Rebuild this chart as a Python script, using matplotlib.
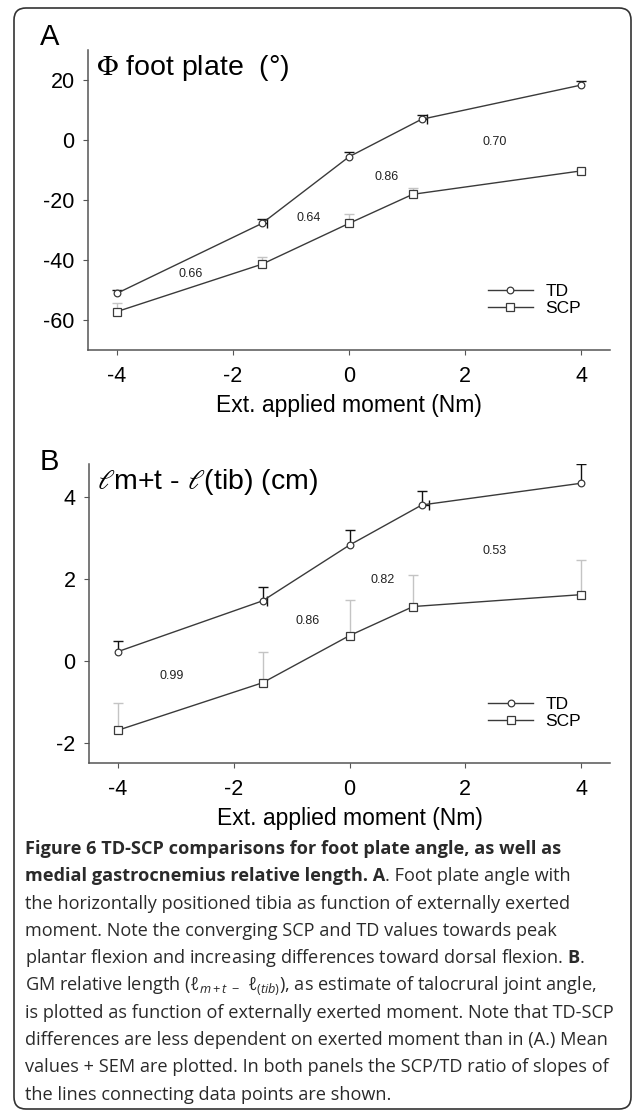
import numpy as np
import matplotlib
matplotlib.use("Agg")
import matplotlib.pyplot as plt
from matplotlib.patches import FancyBboxPatch
from matplotlib.transforms import IdentityTransform

plt.rcParams['font.family'] = ['Liberation Sans', 'DejaVu Sans']
plt.rcParams['mathtext.fontset'] = 'custom'
plt.rcParams['mathtext.rm'] = 'Open Sans'
plt.rcParams['mathtext.it'] = 'Open Sans:italic'
plt.rcParams['mathtext.bf'] = 'Open Sans:bold'

W, H = 633, 1111

# --- data, panel A: foot plate angle (deg) ---
x_ticks = [-4, -2, 0, 2, 4]
td_x_a = [-4, -1.5, 0, 1.25, 4]
td_a = [-51.1, -27.8, -5.6, 6.9, 18.3]
td_sem_a = [1.2, 1.4, 1.7, 1.4, 1.5]
td_xsem_a = [0, 0.09, 0, 0.10, 0]
scp_x_a = [-4, -1.5, 0, 1.1, 4]
scp_a = [-57.2, -41.4, -27.8, -18.1, -10.3]
scp_sem_a = [2.8, 2.5, 3.0, 2.0, 0.5]
ratios_a = ['0.66', '0.64', '0.86', '0.70']
ratio_x_a = [-2.73, -0.70, 0.65, 2.51]
ratio_y_a = [-44.7, -26.1, -12.2, -0.6]
y_ticks_a = [-60, -40, -20, 0, 20]

# --- data, panel B: GM relative length (cm) ---
td_x_b = [-4, -1.5, 0, 1.25, 4]
td_b = [0.22, 1.46, 2.82, 3.80, 4.33]
td_sem_b = [0.27, 0.33, 0.38, 0.35, 0.47]
td_xsem_b = [0, 0.07, 0, 0.12, 0]
scp_x_b = [-4, -1.5, 0, 1.1, 4]
scp_b = [-1.70, -0.54, 0.61, 1.32, 1.61]
scp_sem_b = [0.67, 0.74, 0.87, 0.78, 0.84]
ratios_b = ['0.99', '0.86', '0.82', '0.53']
ratio_x_b = [-3.07, -0.72, 0.58, 2.51]
ratio_y_b = [-0.37, 0.97, 1.98, 2.67]
y_ticks_b = [-2, 0, 2, 4]

# caption: each line is a list of (text, weight) runs
caption_lines = [
    [("Figure 6 TD-SCP comparisons for foot plate angle, as well as", 'bold')],
    [("medial gastrocnemius relative length. A", 'bold'),
     (". Foot plate angle with", 'normal')],
    [("the horizontally positioned tibia as function of externally exerted", 'normal')],
    [("moment. Note the converging SCP and TD values towards peak", 'normal')],
    [(r"plantar flexion and increasing differences toward dorsal flexion. $\mathbf{B}$.", 'normal')],
    [(r"GM relative length ($\ell_{m+t\ -}\ \ell_{(tib)}$), as estimate of talocrural joint angle,", 'normal')],
    [("is plotted as function of externally exerted moment. Note that TD-SCP", 'normal')],
    [("differences are less dependent on exerted moment than in (A.) Mean", 'normal')],
    [("values + SEM are plotted. In both panels the SCP/TD ratio of slopes of", 'normal')],
    [("the lines connecting data points are shown.", 'normal')],
]

LINE = '#3a3a3a'
SPINE = '#555555'


def draw_panel(ax, td_x, td, td_sem, td_xsem, scp_x, scp, scp_sem,
               ratios, rx, ry, ylim, yticks, title):
    td_x, td, td_sem, td_xsem = map(np.asarray, (td_x, td, td_sem, td_xsem))
    scp_x, scp, scp_sem = map(np.asarray, (scp_x, scp, scp_sem))

    # SEM bars, upward only
    ax.vlines(scp_x, scp, scp + scp_sem, color='#c4c4c4', lw=1.0, zorder=2)
    ax.plot(scp_x, scp + scp_sem, ls='none', marker='_', ms=6.5, mew=1.0,
            color='#c4c4c4', zorder=2)
    ax.vlines(td_x, td, td + td_sem, color='#111111', lw=1.0, zorder=2)
    ax.plot(td_x, td + td_sem, ls='none', marker='_', ms=6.5, mew=1.0,
            color='#111111', zorder=2)
    m = td_xsem > 0
    ax.hlines(td[m], td_x[m], td_x[m] + td_xsem[m], color='#111111', lw=1.0, zorder=2)
    ax.plot(td_x[m] + td_xsem[m], td[m], ls='none', marker='|', ms=6.5, mew=1.0,
            color='#111111', zorder=2)

    l_td, = ax.plot(td_x, td, color=LINE, lw=1.0, marker='o', ms=4.8,
                    mfc='white', mec=LINE, mew=0.9, label='TD', zorder=4)
    l_scp, = ax.plot(scp_x, scp, color=LINE, lw=1.0, marker='s', ms=5.4,
                     mfc='white', mec=LINE, mew=0.9, label='SCP', zorder=4)

    for r, x, y in zip(ratios, rx, ry):
        ax.text(x, y, r, fontsize=9, ha='center', va='center', color='#222222')

    ax.legend(handles=[l_td, l_scp], loc='center left',
              bbox_to_anchor=(0.766, 0.166), frameon=False, fontsize=12.5,
              handlelength=2.6, handletextpad=0.7, labelspacing=0.1,
              borderpad=0, borderaxespad=0)

    ax.text(0.015, 0.94, title, transform=ax.transAxes, fontsize=20.5,
            ha='left', va='center', math_fontfamily='stix')

    ax.set_xlim(-4.5, 4.5)
    ax.set_ylim(*ylim)
    ax.set_xticks(x_ticks)
    ax.set_xticklabels([str(t) for t in x_ticks])
    ax.set_yticks(yticks)
    ax.set_yticklabels([str(t) for t in yticks])
    for s in ('top', 'right'):
        ax.spines[s].set_visible(False)
    for s in ('left', 'bottom'):
        ax.spines[s].set_color(SPINE)
        ax.spines[s].set_linewidth(1.1)
    ax.tick_params(direction='out', length=3.6, width=0.8, color=SPINE,
                   labelsize=15.5)
    ax.tick_params(axis='y', pad=6)
    ax.tick_params(axis='x', pad=8)
    ax.set_xlabel('Ext. applied moment (Nm)', fontsize=16.5, labelpad=5)


fig = plt.figure(figsize=(W / 100, H / 100), dpi=100)

ax_a = fig.add_axes([88 / W, 1 - 350 / H, 522 / W, 300 / H])
draw_panel(ax_a, td_x_a, td_a, td_sem_a, td_xsem_a, scp_x_a, scp_a, scp_sem_a,
           ratios_a, ratio_x_a, ratio_y_a, (-70, 30), y_ticks_a,
           r"$\Phi$ foot plate  (°)")

ax_b = fig.add_axes([89 / W, 1 - 763 / H, 521 / W, 299 / H])
draw_panel(ax_b, td_x_b, td_b, td_sem_b, td_xsem_b, scp_x_b, scp_b, scp_sem_b,
           ratios_b, ratio_x_b, ratio_y_b, (-2.5, 4.8), y_ticks_b,
           r"$\ell$m+t - $\ell$(tib) (cm)")

fig.text(40 / W, 1 - 37 / H, 'A', fontsize=21, ha='left', va='center')
fig.text(40 / W, 1 - 462 / H, 'B', fontsize=21, ha='left', va='center')

# caption, sized so the widest line fills the box
renderer = fig.canvas.get_renderer()
probe = fig.text(0, 0, caption_lines[6][0][0], fontsize=12, family='Open Sans')
cap_size = 12 * 586 / probe.get_window_extent(renderer).width
probe.remove()

for i, runs in enumerate(caption_lines):
    x_px = 25
    for txt, weight in runs:
        t = fig.text(x_px / W, 1 - (849 + i * 27.3) / H, txt, fontsize=cap_size,
                     family='Open Sans', fontweight=weight,
                     color='#2a2a2a', ha='left', va='center')
        x_px += t.get_window_extent(renderer).width

border = FancyBboxPatch((14, 2), 617, 1101,
                        boxstyle='round,pad=0,rounding_size=12',
                        transform=IdentityTransform(), fill=False,
                        ec='#333333', lw=1.2)
fig.add_artist(border)

fig.savefig('out.png', dpi=100)
